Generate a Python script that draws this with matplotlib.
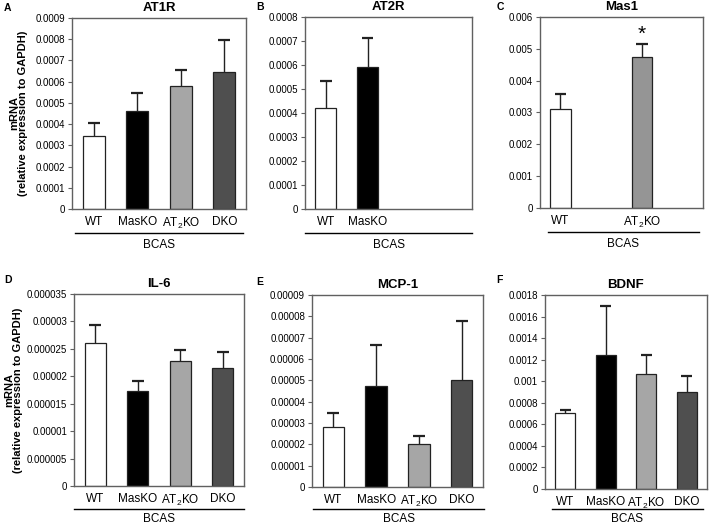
import matplotlib
matplotlib.use("Agg")
import numpy as np
import matplotlib.pyplot as plt
from matplotlib.lines import Line2D
from matplotlib.ticker import FuncFormatter

plt.rcParams['font.family'] = ['Liberation Sans', 'DejaVu Sans']
plt.rcParams['mathtext.fontset'] = 'custom'
plt.rcParams['mathtext.rm'] = 'Liberation Sans'
plt.rcParams['mathtext.it'] = 'Liberation Sans'

groups = ['WT', 'MasKO', 'AT$_2$KO', 'DKO']
fills = ['white', 'black', '#a6a6a6', '#4f4f4f']

titles = ['AT1R', 'AT2R', 'Mas1', 'IL-6', 'MCP-1', 'BDNF']
letters = ['A', 'B', 'C', 'D', 'E', 'F']

# slot index (of 4) used by each bar, values and upper error ends
at1r_slots = [0, 1, 2, 3]
at1r_mean = [0.000342, 0.000463, 0.000580, 0.000645]
at1r_top = [0.000405, 0.000548, 0.000657, 0.000795]

at2r_slots = [0, 1]
at2r_mean = [0.000422, 0.000591]
at2r_top = [0.000535, 0.000712]

mas1_slots = [0, 2]
mas1_mean = [0.00311, 0.00473]
mas1_top = [0.00357, 0.00515]

il6_slots = [0, 1, 2, 3]
il6_mean = [0.0000260, 0.0000174, 0.0000227, 0.0000216]
il6_top = [0.0000294, 0.0000191, 0.0000248, 0.0000245]

mcp1_slots = [0, 1, 2, 3]
mcp1_mean = [0.0000280, 0.0000473, 0.0000203, 0.0000501]
mcp1_top = [0.0000346, 0.0000665, 0.0000240, 0.0000780]

bdnf_slots = [0, 1, 2, 3]
bdnf_mean = [0.000708, 0.00124, 0.00107, 0.000903]
bdnf_top = [0.000730, 0.00170, 0.00124, 0.00105]

ymax = [0.0009, 0.0008, 0.006, 0.000035, 0.00009, 0.0018]
ystep = [0.0001, 0.0001, 0.001, 0.000005, 0.00001, 0.0002]

panels = [(at1r_slots, at1r_mean, at1r_top), (at2r_slots, at2r_mean, at2r_top),
          (mas1_slots, mas1_mean, mas1_top), (il6_slots, il6_mean, il6_top),
          (mcp1_slots, mcp1_mean, mcp1_top), (bdnf_slots, bdnf_mean, bdnf_top)]

W, H = 709, 524
# axes boxes in pixels: left, right, top, bottom
boxes = [(72, 246, 18, 209), (305, 472, 17, 209), (540, 703, 17, 208),
         (74, 244, 294, 486), (312, 483, 295, 487), (545, 707, 295, 489)]
# BCAS line: x0, x1, y ; BCAS text y
bcas = [(75, 243, 233, 245), (305, 472, 233, 245), (548, 699, 232, 244),
        (74, 244, 509, 519), (313, 484, 509, 519), (552, 703, 509, 519)]
letter_pos = [(4, 8), (256, 7), (497, 7), (4, 280), (256, 282), (496, 280)]
# right edge (pixels) of the y label for panels A and D
ylab_x = {0: 28, 3: 23}

spine_col = '#606060'
edge = '#222222'

fig = plt.figure(figsize=(W / 100, H / 100), dpi=100)

def fmt(v, pos):
    if abs(v) < 1e-12:
        return '0'
    return np.format_float_positional(round(v, 9), trim='-')

for i, (slots, mean, top) in enumerate(panels):
    l, r, t, b = boxes[i]
    ax = fig.add_axes([l / W, 1 - b / H, (r - l) / W, (b - t) / H])
    cols = [fills[s] for s in slots]
    if i == 2:
        cols = ['white', '#959595']
    ax.bar(slots, mean, width=0.5, color=cols, edgecolor=edge, linewidth=0.9, zorder=2)
    # upper error bars only
    ax.vlines(slots, mean, top, color=edge, linewidth=1.0, zorder=1)
    ax.hlines(top, np.array(slots) - 0.14, np.array(slots) + 0.14, color=edge, linewidth=1.6, zorder=1)
    ax.set_xlim(-0.5, 3.5)
    ax.set_ylim(0, ymax[i])
    ax.set_yticks(np.arange(0, ymax[i] + ystep[i] / 2, ystep[i]))
    ax.yaxis.set_major_formatter(FuncFormatter(fmt))
    ax.set_xticks(slots)
    ax.set_xticklabels([groups[s] for s in slots], fontsize=8.5)
    ax.tick_params(axis='x', length=0, pad=5)
    ax.tick_params(axis='y', length=3, width=0.8, color=spine_col, labelsize=7, pad=2)
    for sp in ax.spines.values():
        sp.set_color(spine_col)
        sp.set_linewidth(1.0)
    ax.set_title(titles[i], fontsize=9.5, fontweight='bold', pad=5)
    if i == 2:
        ax.text(2, top[1], '*', ha='center', va='bottom', fontsize=15)
    if i in ylab_x:
        ax.set_ylabel('mRNA\n(relative expression to GAPDH)', fontsize=8,
                      fontweight='bold', linespacing=0.85)
        ax.yaxis.set_label_coords((ylab_x[i] - l) / (r - l), 0.5)

    x0, x1, y, ty = bcas[i]
    fig.add_artist(Line2D([x0 / W, x1 / W], [1 - y / H, 1 - y / H], color='black', linewidth=1.0))
    fig.text((x0 + x1) / 2 / W, 1 - ty / H, 'BCAS', ha='center', va='center', fontsize=8.5)
    lx, ly = letter_pos[i]
    fig.text(lx / W, 1 - ly / H, letters[i], ha='left', va='center', fontsize=7.5, fontweight='bold')

fig.savefig('out.png', dpi=100)
